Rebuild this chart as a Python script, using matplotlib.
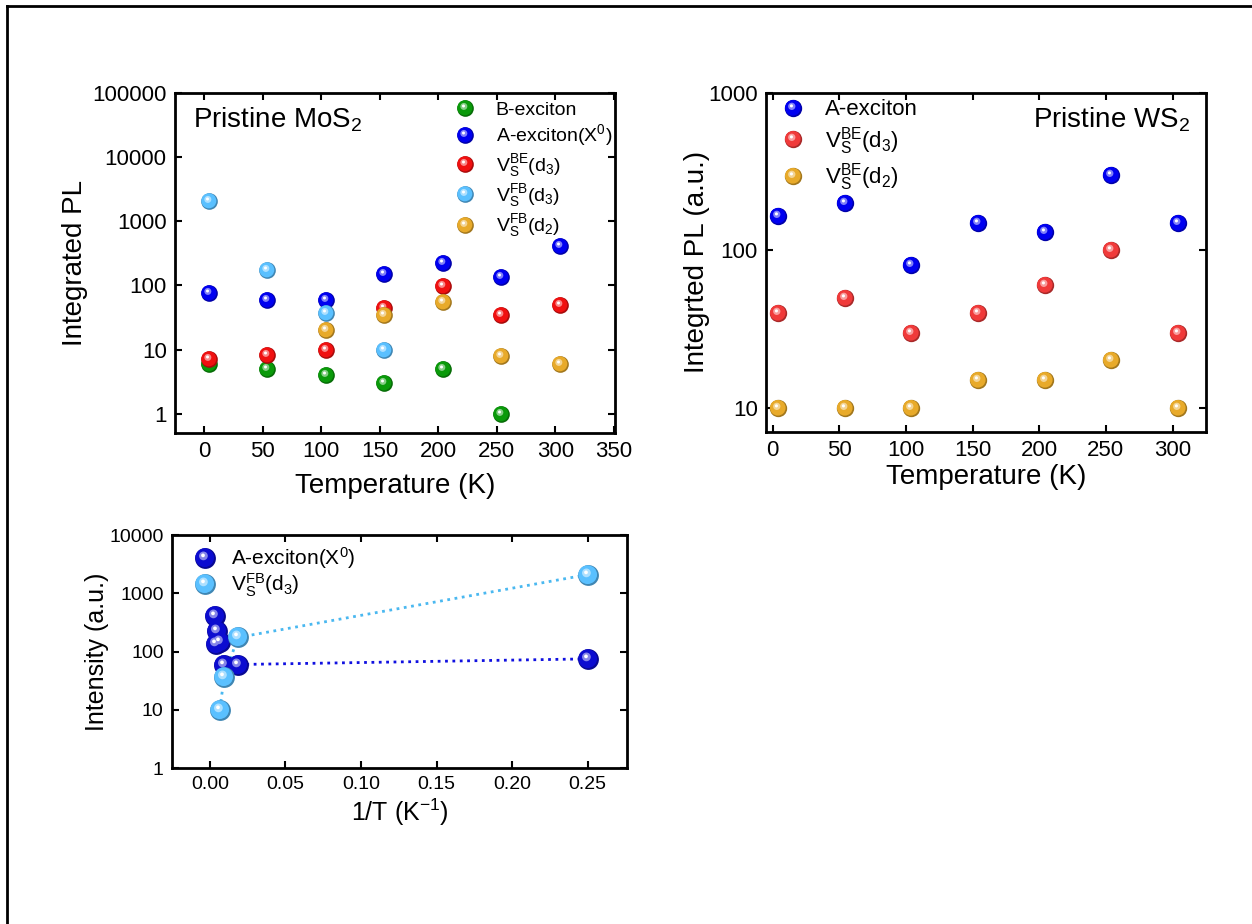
import numpy as np
import matplotlib
matplotlib.use("Agg")
import matplotlib.pyplot as plt
from matplotlib.path import Path
from matplotlib.lines import Line2D
from matplotlib.legend_handler import HandlerTuple
from matplotlib.ticker import FixedLocator, NullLocator, FuncFormatter
from matplotlib.colors import to_rgb

plt.rcParams["font.family"] = ["Liberation Sans", "DejaVu Sans"]
plt.rcParams["mathtext.default"] = "regular"

# MoS2 integrated PL vs temperature
mos2_T = [4, 54, 104, 154, 204, 254, 304]
mos2_b_exciton = [6, 5, 4, 3, 5, 1]
mos2_a_exciton = [75, 60, 60, 148, 225, 137, 410]
mos2_vbe_d3 = [7.2, 8.1, 10, 45, 98, 34, 50]
mos2_vfb_d3 = [2100, 175, 37, 10]
mos2_vfb_d2_T = [104, 154, 204, 254, 304]
mos2_vfb_d2 = [20, 35, 56, 8, 6]

# WS2 integrated PL vs temperature
ws2_T = [4, 54, 104, 154, 204, 254, 304]
ws2_a_exciton = [165, 200, 80, 150, 130, 300, 150]
ws2_vbe_d3 = [40, 50, 30, 40, 60, 100, 30]
ws2_vbe_d2 = [10, 10, 10, 15, 15, 20, 10]


def offset_circle(cx, cy, r):
    # circle inside a [-1, 1] box so marker scaling matches 'o'
    c = Path.circle((cx, cy), r)
    box = Path([[1, 1], [-1, -1]], [Path.MOVETO, Path.MOVETO])
    return Path.make_compound_path(c, box)


BODY = offset_circle(-0.08, 0.08, 0.9)
HALO = offset_circle(-0.2, 0.25, 0.42)
SPOT = offset_circle(-0.24, 0.3, 0.18)


def mix(c, other, f):
    a = np.array(to_rgb(c))
    b = np.array(to_rgb(other))
    return tuple(a * (1 - f) + b * f)


def balls(ax, x, y, color, ms, zorder=3):
    kw = dict(ls="none", ms=ms, mew=0, zorder=zorder)
    l1, = ax.plot(x, y, marker="o", mfc=mix(color, "black", 0.3), **kw)
    l2, = ax.plot(x, y, marker=BODY, mfc=color, **kw)
    l3, = ax.plot(x, y, marker=HALO, mfc=mix(color, "white", 0.5), **kw)
    l4, = ax.plot(x, y, marker=SPOT, mfc="white", **kw)
    return (l1, l2, l3, l4)


def style(ax, yticks, xticks, tick_fs):
    ax.set_yscale("log")
    ax.yaxis.set_major_locator(FixedLocator(yticks))
    ax.yaxis.set_minor_locator(NullLocator())
    ax.yaxis.set_major_formatter(FuncFormatter(lambda v, p: f"{v:g}"))
    ax.set_xticks(xticks)
    ax.tick_params(direction="in", top=True, right=True, length=5, width=1.5,
                   labelsize=tick_fs, pad=6)
    for s in ax.spines.values():
        s.set_linewidth(2)


OVERLAY = {tuple: HandlerTuple(ndivide=1, pad=0)}

fig = plt.figure(figsize=(12.52, 9.24), dpi=100)

# frame lines along the top and left edges
fig.add_artist(Line2D([0.0056, 1], [0.9935, 0.9935], transform=fig.transFigure,
                      color="black", lw=2))
fig.add_artist(Line2D([0.0056, 0.0056], [0, 0.9935], transform=fig.transFigure,
                      color="black", lw=2))

GREEN = "#0a9a0a"
BLUE = "#0000f0"
RED = "#f01010"
SKY = "#5ac0ff"
GOLD = "#e8aa2a"

# --- Pristine MoS2 ---
ax1 = fig.add_axes([0.1398, 0.5314, 0.3514, 0.368])
ms1 = 12
h_b = balls(ax1, mos2_T[:len(mos2_b_exciton)], mos2_b_exciton, GREEN, ms1)
h_a = balls(ax1, mos2_T, mos2_a_exciton, BLUE, ms1)
h_r = balls(ax1, mos2_T, mos2_vbe_d3, RED, ms1)
h_s = balls(ax1, mos2_T[:len(mos2_vfb_d3)], mos2_vfb_d3, SKY, ms1)
h_g = balls(ax1, mos2_vfb_d2_T, mos2_vfb_d2, GOLD, ms1)
style(ax1, [1, 10, 100, 1000, 10000, 100000], np.arange(0, 351, 50), 16)
ax1.set_xlim(-25, 351)
ax1.set_ylim(0.5, 100000)
ax1.set_xlabel("Temperature (K)", fontsize=20, labelpad=8)
ax1.set_ylabel("Integrated PL", fontsize=20, labelpad=3)
ax1.text(0.04, 0.92, "Pristine MoS$_2$", transform=ax1.transAxes, fontsize=20,
         va="center", ha="left")
ax1.legend([h_b, h_a, h_r, h_s, h_g],
           ["B-exciton", "A-exciton(X$^0$)", "V$_S^{BE}$(d$_3$)",
            "V$_S^{FB}$(d$_3$)", "V$_S^{FB}$(d$_2$)"],
           handler_map=OVERLAY,
           loc="upper right", bbox_to_anchor=(1.02, 1.01), frameon=False,
           fontsize=14, labelspacing=0.18, handletextpad=1.0, handlelength=1.2,
           borderaxespad=0.2)

# --- Pristine WS2 ---
ax2 = fig.add_axes([0.6118, 0.5325, 0.3514, 0.367])
ms2 = 12.5
w_a = balls(ax2, ws2_T, ws2_a_exciton, BLUE, ms2)
w_r = balls(ax2, ws2_T, ws2_vbe_d3, "#f03a3a", ms2)
w_g = balls(ax2, ws2_T, ws2_vbe_d2, GOLD, ms2)
style(ax2, [10, 100, 1000], np.arange(0, 301, 50), 16)
ax2.set_xlim(-5, 325)
ax2.set_ylim(7, 1000)
ax2.set_xlabel("Temperature (K)", fontsize=20, labelpad=2)
ax2.set_ylabel("Integrted PL (a.u.)", fontsize=20, labelpad=-1.5)
ax2.text(0.965, 0.92, "Pristine WS$_2$", transform=ax2.transAxes, fontsize=20,
         va="center", ha="right")
ax2.legend([w_a, w_r, w_g],
           ["A-exciton", "V$_S^{BE}$(d$_3$)", "V$_S^{BE}$(d$_2$)"],
           handler_map=OVERLAY,
           loc="upper left", bbox_to_anchor=(0.0, 1.02), frameon=False,
           fontsize=16, labelspacing=0.2, handletextpad=0.8, handlelength=1.25,
           borderaxespad=0.2)

# --- intensity vs 1/T ---
ax3 = fig.add_axes([0.1374, 0.1688, 0.3634, 0.252])
inv_a = 1.0 / np.array(mos2_T)
inv_s = 1.0 / np.array(mos2_T[:len(mos2_vfb_d3)])
DARK = "#0c0cd0"
ax3.plot(inv_a, mos2_a_exciton, ls=":", lw=2, color="#1010e0", zorder=2)
ax3.plot(inv_s, mos2_vfb_d3, ls=":", lw=2, color="#4ab8f0", zorder=2)
i_a = balls(ax3, inv_a, mos2_a_exciton, DARK, 15)
i_s = balls(ax3, inv_s, mos2_vfb_d3, SKY, 15)
style(ax3, [1, 10, 100, 1000, 10000], np.arange(0, 0.251, 0.05), 14)
ax3.xaxis.set_major_formatter(FuncFormatter(lambda v, p: f"{v:.2f}"))
ax3.set_xlim(-0.025, 0.276)
ax3.set_ylim(1, 10000)
ax3.set_xlabel("1/T (K$^{-1}$)", fontsize=18, labelpad=2)
ax3.set_ylabel("Intensity (a.u.)", fontsize=18, labelpad=0)
ax3.legend([i_a, i_s], ["A-exciton(X$^0$)", "V$_S^{FB}$(d$_3$)"],
           handler_map=OVERLAY,
           loc="upper left", bbox_to_anchor=(0.0, 1.02), frameon=False,
           fontsize=15, labelspacing=0.05, handletextpad=0.4, handlelength=1.75,
           borderaxespad=0.3)

fig.savefig("out.png", dpi=100, facecolor="white")
